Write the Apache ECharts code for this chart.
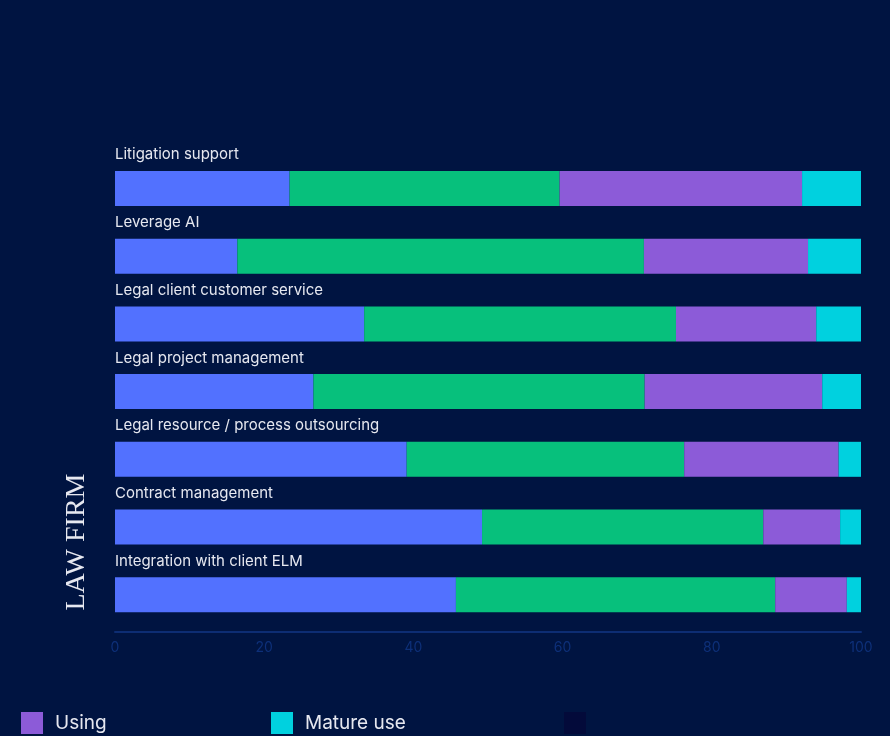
<!DOCTYPE html>
<html>
<head>
<meta charset="utf-8">
<script src="https://cdn.jsdelivr.net/npm/echarts@6/dist/echarts.min.js"></script>
<style>
html,body{margin:0;padding:0;background:#001441;}
#chart{width:890px;height:736px;}
</style>
</head>
<body>
<div id="chart"></div>
<script>
const categories = [
  "Litigation support",
  "Leverage AI",
  "Legal client customer service",
  "Legal project management",
  "Legal resource / process outsourcing",
  "Contract management",
  "Integration with client ELM"
];
const notUsing  = [23.4, 16.4, 33.4, 26.6, 39.1, 49.2, 45.7];
const planning  = [36.2, 54.5, 41.8, 44.4, 37.2, 37.7, 42.8];
const using     = [32.5, 22.0, 18.8, 23.8, 20.7, 10.3,  9.6];
const matureUse = [ 7.9,  7.1,  6.0,  5.2,  3.0,  2.8,  1.9];
const xTicks = [0, 20, 40, 60, 80, 100];
const groupLabel = "LAW FIRM";

const chart = echarts.init(document.getElementById('chart'));
const barW = 35;
function bar(name, data, color, extra) {
  return Object.assign({ name, type: 'bar', stack: 'total', data, barWidth: barW,
    itemStyle: { color }, emphasis: { disabled: true }, silent: true }, extra || {});
}
const legendText = { color: '#e6e8f0', fontSize: 19, fontFamily: 'Inter', padding: [0, 0, 0, 7] };
function legend(name, left) {
  return { data: [name], left, top: 712, padding: 0, icon: 'rect',
    itemWidth: 22, itemHeight: 22, itemGap: 12, textStyle: legendText, selectedMode: false };
}
chart.setOption({
  backgroundColor: '#001441',
  animation: false,
  grid: { left: 115, right: 29, top: 154.6, height: 474, containLabel: false },
  xAxis: {
    type: 'value', min: 0, max: 100, interval: 20, offset: 3,
    axisLine: { show: true, lineStyle: { color: '#0d2d73', width: 2 } },
    axisTick: { show: false },
    splitLine: { show: false },
    axisLabel: { color: '#0d3079', fontSize: 14, fontFamily: 'Inter', margin: 9,
      formatter: v => xTicks.includes(v) ? String(v) : '' }
  },
  yAxis: {
    type: 'category', data: categories, inverse: true,
    axisLine: { show: false }, axisTick: { show: false },
    axisLabel: { show: false }
  },
  legend: [ legend('Using', 21), legend('Mature use', 271), legend('\u00a0', 564) ],
  series: [
    bar('Not using', notUsing, '#5271FF', {
      label: { show: true, position: [0, -16], align: 'left', verticalAlign: 'middle',
        color: '#e6e8f0', fontSize: 15, fontFamily: 'Inter',
        formatter: p => categories[p.dataIndex] }
    }),
    bar('Planning', planning, '#07C07C'),
    bar('Using', using, '#8C5BD8'),
    bar('Mature use', matureUse, '#00D1DF'),
    bar('\u00a0', [], '#030a3a')
  ],
  graphic: [{
    type: 'text', x: 77, y: 542, rotation: Math.PI / 2,
    style: { text: groupLabel, fill: '#e6e8f0', font: '28px "Liberation Serif", "DejaVu Serif", serif',
      align: 'center', verticalAlign: 'middle' }
  }]
});
</script>
</body>
</html>
